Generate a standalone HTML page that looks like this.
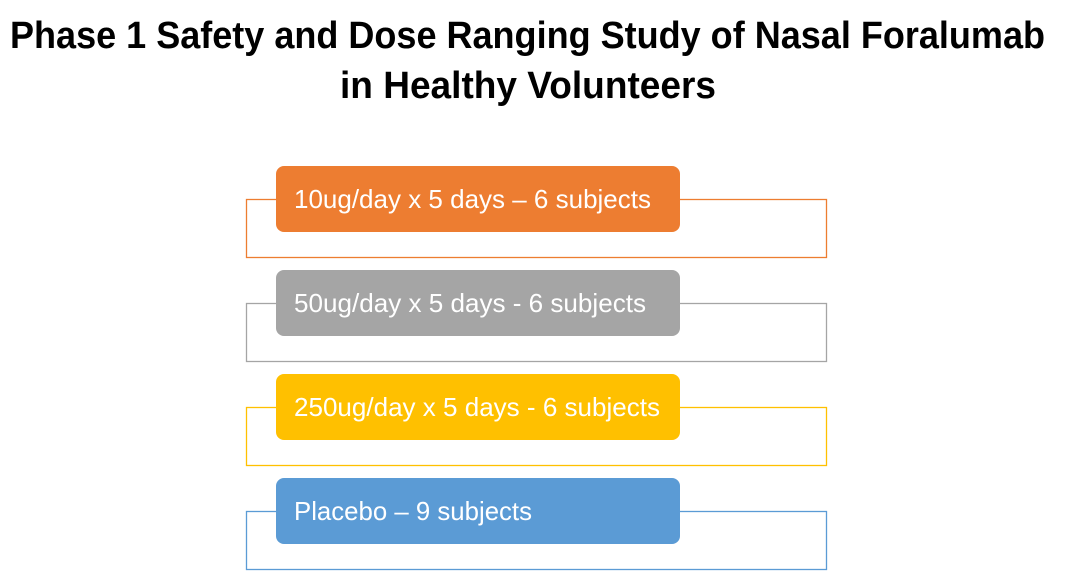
<!DOCTYPE html>
<html><head><meta charset="utf-8"><style>
html,body{margin:0;padding:0;background:#fff;width:1066px;height:577px;overflow:hidden}
svg text{font-family:"Liberation Sans",sans-serif}
</style></head><body>
<svg width="1066" height="577" viewBox="0 0 1066 577">
<text x="10" y="48" font-size="38" font-weight="bold" fill="#000" textLength="1035" lengthAdjust="spacingAndGlyphs">Phase 1 Safety and Dose Ranging Study of Nasal Foralumab</text>
<text x="340" y="98" font-size="38" font-weight="bold" fill="#000" textLength="376" lengthAdjust="spacingAndGlyphs">in Healthy Volunteers</text>
<g id="rows"></g>
</svg>
<script>
const labels=["10ug/day x 5 days – 6 subjects","50ug/day x 5 days - 6 subjects","250ug/day x 5 days - 6 subjects","Placebo – 9 subjects"];
const colors=["#ED7D31","#A5A5A5","#FFC000","#5B9BD5"];
const widths=[357,352,366,238];
const names=["dose-10ug","dose-50ug","dose-250ug","placebo"];
const g=document.getElementById('rows');
const ns="http://www.w3.org/2000/svg";
labels.forEach((t,i)=>{
  const y=166+i*104;
  const o=document.createElementNS(ns,'rect');
  o.setAttribute('x',246.5);o.setAttribute('y',y+33.5);o.setAttribute('width',580);o.setAttribute('height',58);
  o.setAttribute('fill','none');o.setAttribute('stroke',colors[i]);o.setAttribute('stroke-width',1.3);
  
  
  g.appendChild(o);
  const r=document.createElementNS(ns,'rect');
  r.setAttribute('x',276);r.setAttribute('y',y);r.setAttribute('width',404);r.setAttribute('height',66);
  r.setAttribute('rx',8);r.setAttribute('fill',colors[i]);
  
  
  g.appendChild(r);
  const tx=document.createElementNS(ns,'text');
  tx.setAttribute('x',294);tx.setAttribute('y',y+42);tx.setAttribute('font-size',26);tx.setAttribute('fill','#fff');
  tx.setAttribute('textLength',widths[i]);tx.setAttribute('lengthAdjust','spacingAndGlyphs');
  tx.textContent=t;
  
  
  g.appendChild(tx);
});
</script>
</body></html>
